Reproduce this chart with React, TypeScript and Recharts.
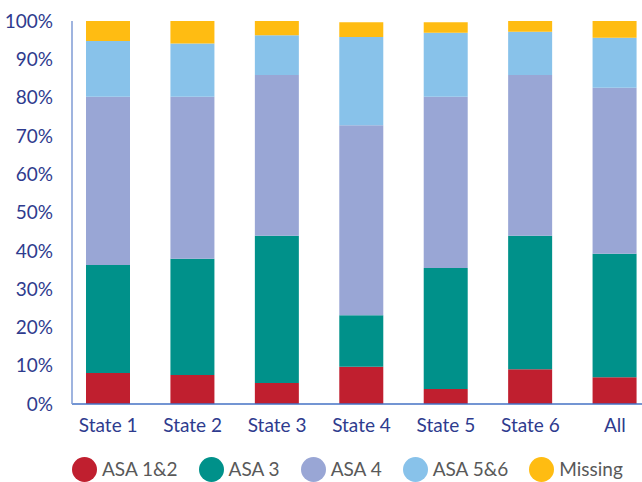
import { BarChart, Bar, XAxis, YAxis, Legend } from "recharts"

const states = ["State 1", "State 2", "State 3", "State 4", "State 5", "State 6", "All"]
const asa12 = [8.1, 7.6, 5.5, 9.7, 3.9, 9.1, 7.0]
const asa3 = [28.2, 30.3, 38.4, 13.5, 31.6, 34.8, 32.2]
const asa4 = [43.9, 42.3, 42.0, 49.6, 44.7, 42.0, 43.4]
const asa56 = [14.6, 13.9, 10.4, 23.0, 16.7, 11.3, 13.0]
const missing = [5.2, 5.9, 3.7, 3.9, 2.8, 2.8, 4.4]
const yTicks = [0, 10, 20, 30, 40, 50, 60, 70, 80, 90, 100]

const series = [
  { key: "asa12", name: "ASA 1&2", color: "#C01F2F" },
  { key: "asa3", name: "ASA 3", color: "#00918A" },
  { key: "asa4", name: "ASA 4", color: "#99A6D5" },
  { key: "asa56", name: "ASA 5&6", color: "#88C2EA" },
  { key: "missing", name: "Missing", color: "#FFBC12" },
]

const data = states.map((s, i) => ({
  state: s,
  asa12: asa12[i],
  asa3: asa3[i],
  asa4: asa4[i],
  asa56: asa56[i],
  missing: missing[i],
}))

const FONT = "Lato, 'Open Sans', sans-serif"
const AXIS_TEXT = "#2E3B8E"

function LegendRow() {
  return (
    <div
      style={{
        display: "flex",
        alignItems: "center",
        height: 30,
        paddingLeft: 72,
        fontFamily: FONT,
        whiteSpace: "nowrap",
        width: 642,
        boxSizing: "border-box",
      }}
    >
      {series.map((s) => (
        <div key={s.key} style={{ display: "flex", alignItems: "center", marginRight: 21, flexShrink: 0 }}>
          <span
            style={{ width: 25, height: 25, borderRadius: "50%", background: s.color, display: "inline-block", flexShrink: 0 }}
          />
          <span style={{ marginLeft: 5, fontSize: 19, lineHeight: "22px", color: "#595959" }}>{s.name}</span>
        </div>
      ))}
    </div>
  )
}

export default function App() {
  return (
    <div style={{ position: "absolute", left: 0, top: 0, width: 642, height: 482, overflow: "hidden", background: "#fff" }}>
      <BarChart
        width={642}
        height={482}
        data={data}
        margin={{ top: 21, right: 0, left: 12, bottom: 0 }}
        barSize={44}
      >
        <XAxis
          dataKey="state"
          tickLine={false}
          tickMargin={9}
          padding={{ left: -6, right: -15 }}
          height={48}
          axisLine={{ stroke: "#4472C4", strokeWidth: 1.5 }}
          tick={{ fill: AXIS_TEXT, fontSize: 19, fontFamily: FONT }}
        />
        <YAxis
          width={60}
          domain={[0, 100]}
          ticks={yTicks}
          tickFormatter={(v) => `${v}%`}
          tickLine={false}
          tickMargin={13}
          axisLine={{ stroke: "#7F9BD4", strokeWidth: 1.5 }}
          tick={{ fill: AXIS_TEXT, fontSize: 19, fontFamily: FONT }}
          interval={0}
        />
        <Legend
          verticalAlign="bottom"
          content={() => <LegendRow />}
          wrapperStyle={{ bottom: -2, left: 0, width: 642 }}
        />
        {series.map((s) => (
          <Bar key={s.key} dataKey={s.key} name={s.name} stackId="a" fill={s.color} isAnimationActive={false} />
        ))}
      </BarChart>
    </div>
  )
}
